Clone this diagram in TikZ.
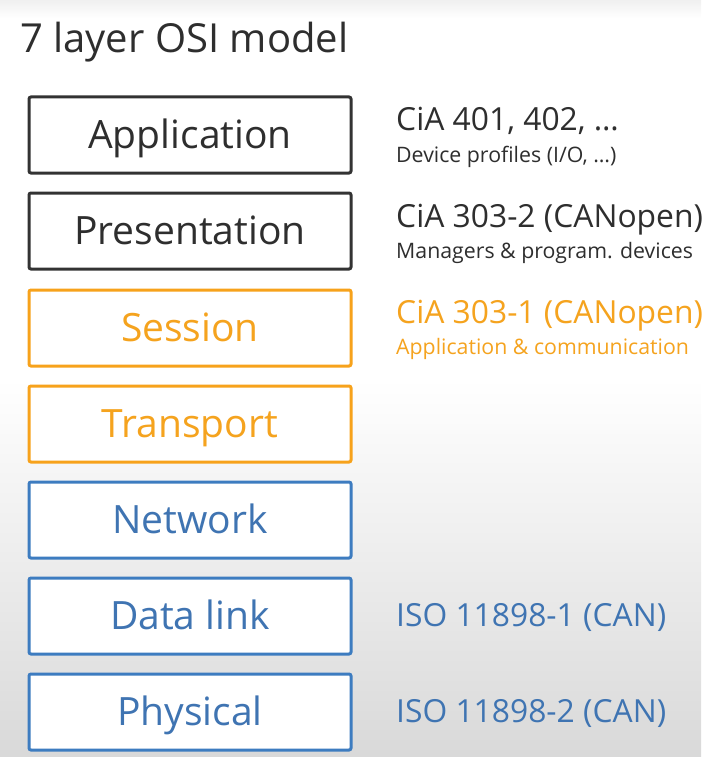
\documentclass[tikz,border=0pt]{standalone}
\usepackage{fontspec}
\setmainfont{Open Sans}
\definecolor{txtdark}{HTML}{2E2E2E}
\definecolor{boxdark}{HTML}{333333}
\definecolor{orng}{HTML}{F7A21B}
\definecolor{orngtxt}{HTML}{F5A31E}
\definecolor{blu}{HTML}{3D7CC0}
\definecolor{blutxt}{HTML}{3F74B2}
\begin{document}
\begin{tikzpicture}[x=1pt,y=-1pt,
  layer/.style={rectangle, rounded corners=2pt, line width=3pt, fill=white,
    minimum width=322pt, minimum height=76pt, inner sep=0pt,
    text height=28pt, text depth=2pt,
    font=\fontsize{39}{39}\selectfont},
  dark/.style={layer, draw=boxdark, text=txtdark},
  orange/.style={layer, draw=orng, text=orngtxt},
  blue/.style={layer, draw=blu, text=blutxt},
  big/.style={anchor=base west, inner sep=0pt, font=\fontsize{31.8}{32}\selectfont},
  small/.style={anchor=base west, inner sep=0pt, font=\fontsize{21.3}{22}\selectfont}]
\useasboundingbox (0,0) rectangle (701,757);
\fill[white] (0,0) rectangle (701,380);
\shade[top color=white, bottom color=black!15] (0,379) rectangle (701,757);
\shade[top color=black!6, bottom color=white] (0,0) rectangle (701,18);
\node[anchor=base west, inner sep=0pt, text=txtdark, font=\fontsize{40}{40}\selectfont] (title) at (20,53) {7 layer OSI model};
\node[dark] (app) at (190,135) {Application};
\node[dark] (pre) at (190,231) {Presentation};
\node[orange] (ses) at (190,328) {Session};
\node[orange] (tra) at (190,424) {Transport};
\node[blue] (net) at (190,520) {Network};
\node[blue] (dat) at (190,616) {Data link};
\node[blue] (phy) at (190,712) {Physical};
\node[big, text=txtdark] (cia401) at (396,131) {CiA 401, 402, …};
\node[small, text=txtdark] (devprof) at (396,162) {Device profiles (I/O, …)};
\node[big, text=txtdark] (cia3032) at (396,227) {CiA 303-2 (CANopen)};
\node[small, text=txtdark] (mgr) at (396,258) {Managers \& program. devices};
\node[big, text=orngtxt] (cia3031) at (396,323) {CiA 303-1 (CANopen)};
\node[small, text=orngtxt] (appcom) at (396,354) {Application \& communication};
\node[big, text=blutxt] (iso1) at (396,626) {ISO 11898-1 (CAN)};
\node[big, text=blutxt] (iso2) at (396,722) {ISO 11898-2 (CAN)};
\end{tikzpicture}
\end{document}
